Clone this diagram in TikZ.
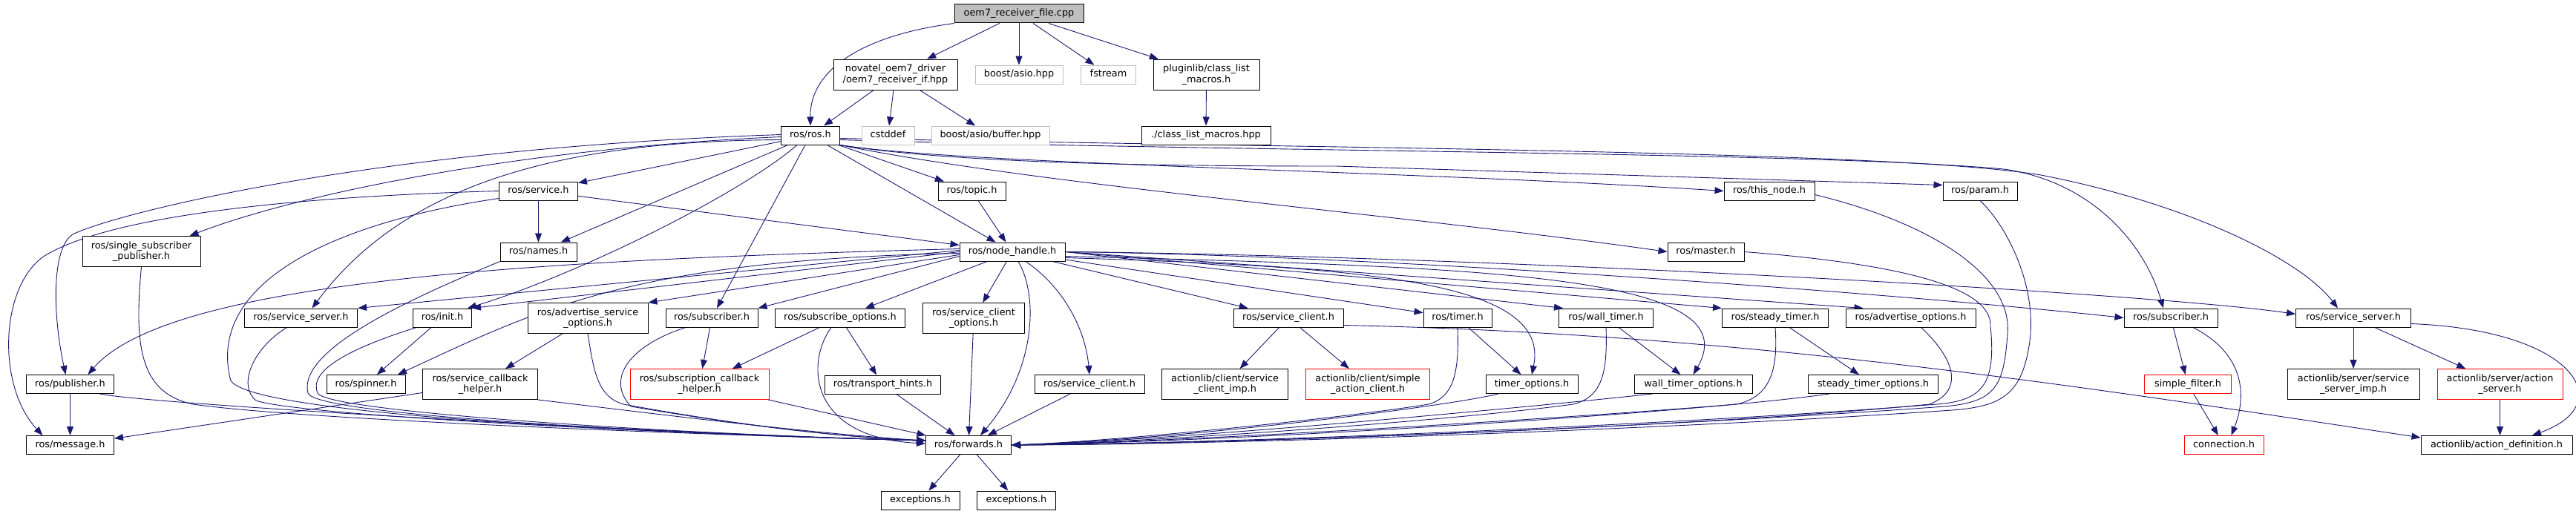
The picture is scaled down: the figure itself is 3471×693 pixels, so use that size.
\documentclass[tikz,border=0pt]{standalone}
\usepackage{fontspec}
\setmainfont{DejaVu Sans}
\usetikzlibrary{arrows.meta}
\definecolor{edgeblue}{HTML}{191970}
\definecolor{nofile}{HTML}{BFBFBF}
\definecolor{rootfill}{HTML}{BFBFBF}
\pgfdeclarelayer{edges}
\pgfsetlayers{edges,main}
\tikzset{
  base/.style={draw=black, line width=1pt, fill=white, inner xsep=3pt, inner ysep=2pt,
    font=\fontsize{12.85}{14.7}\selectfont},
  one/.style={base, minimum height=25pt, text height=9.5pt, text depth=3pt},
  two/.style={base, align=center, minimum height=41pt},
  gry/.style={draw=nofile},
  trunc/.style={draw=red},
  arr/.style={draw=edgeblue, line width=0.9pt, -{Triangle[length=12pt,width=9pt]}}
}
\begin{document}
\begin{tikzpicture}[x=1pt,y=-1pt]
\useasboundingbox (0,0) rectangle (3471,693);
% row 0
\node[one, fill=rootfill, minimum width=174pt] (root) at (1373,18.5) {oem7\_receiver\_file.cpp};
% row 1
\node[two, minimum width=167pt] (novatel) at (1206.5,100.5) {novatel\_oem7\_driver\\/oem7\_receiver\_if.hpp};
\node[one, gry, minimum width=118pt] (asio) at (1373,100.5) {boost/asio.hpp};
\node[one, gry, minimum width=74pt] (fstream) at (1493.5,100.5) {fstream};
\node[two, minimum width=143pt] (plugin) at (1625.5,100.5) {pluginlib/class\_list\\\_macros.h};
% row 2
\node[one, minimum width=79pt] (ros) at (1092,182.5) {ros/ros.h};
\node[one, gry, minimum width=71pt] (cstddef) at (1196.5,182.5) {cstddef};
\node[one, gry, minimum width=159pt] (buffer) at (1334.5,182.5) {boost/asio/buffer.hpp};
\node[one, minimum width=174pt] (clm) at (1625,182.5) {./class\_list\_macros.hpp};
% row 3
\node[one, minimum width=106pt] (service) at (725.5,257.5) {ros/service.h};
\node[one, minimum width=91pt] (topic) at (1309.5,257.5) {ros/topic.h};
\node[one, minimum width=122pt] (thisnode) at (2384,257.5) {ros/this\_node.h};
\node[one, minimum width=100pt] (param) at (2668,257.5) {ros/param.h};
% row 4
\node[two, minimum width=159pt] (ssp) at (190.5,339) {ros/single\_subscriber\\\_publisher.h};
\node[one, minimum width=103pt] (names) at (725.5,339.5) {ros/names.h};
\node[one, minimum width=142pt] (nh) at (1364,339.5) {ros/node\_handle.h};
\node[one, minimum width=103pt] (master) at (2298.5,339.5) {ros/master.h};
% row 5
\node[one, minimum width=152pt] (ssL) at (405.5,428.5) {ros/service\_server.h};
\node[one, minimum width=79pt] (init) at (596,428.5) {ros/init.h};
\node[two, minimum width=162pt] (aso) at (792,429) {ros/advertise\_service\\\_options.h};
\node[one, minimum width=124pt] (subL) at (959,428.5) {ros/subscriber.h};
\node[one, minimum width=175pt] (subopt) at (1132,428.5) {ros/subscribe\_options.h};
\node[two, minimum width=137pt] (sco) at (1312,429) {ros/service\_client\\\_options.h};
\node[one, minimum width=148pt] (scU) at (1736,428.5) {ros/service\_client.h};
\node[one, minimum width=92pt] (timer) at (1964,428.5) {ros/timer.h};
\node[one, minimum width=127pt] (wtimer) at (2164,428.5) {ros/wall\_timer.h};
\node[one, minimum width=143pt] (stimer) at (2392,428.5) {ros/steady\_timer.h};
\node[one, minimum width=175pt] (advopt) at (2574.5,428.5) {ros/advertise\_options.h};
\node[one, minimum width=126pt] (subR) at (2925,428.5) {ros/subscriber.h};
\node[one, minimum width=155pt] (ssR) at (3171,428.5) {ros/service\_server.h};
% row 6
\node[one, minimum width=118pt] (pub) at (94.5,518) {ros/publisher.h};
\node[one, minimum width=106pt] (spinner) at (493,518) {ros/spinner.h};
\node[two, minimum width=155pt] (sch) at (647,518) {ros/service\_callback\\\_helper.h};
\node[two, trunc, minimum width=187pt] (subch) at (942.5,518) {ros/subscription\_callback\\\_helper.h};
\node[one, minimum width=156pt] (th) at (1189.5,518.5) {ros/transport\_hints.h};
\node[one, minimum width=148pt] (scL) at (1468,518) {ros/service\_client.h};
\node[two, minimum width=170pt] (scimp) at (1650.6,518) {actionlib/client/service\\\_client\_imp.h};
\node[two, trunc, minimum width=167pt] (sac) at (1843,518) {actionlib/client/simple\\\_action\_client.h};
\node[one, minimum width=124pt] (topt) at (2064,518) {timer\_options.h};
\node[one, minimum width=159pt] (wtopt) at (2281.5,518) {wall\_timer\_options.h};
\node[one, minimum width=175pt] (stopt) at (2524,518) {steady\_timer\_options.h};
\node[one, trunc, minimum width=117pt] (sfilter) at (2948,518) {simple\_filter.h};
\node[two, minimum width=178pt] (ssimp) at (3171,518) {actionlib/server/service\\\_server\_imp.h};
\node[two, trunc, minimum width=169pt] (aserver) at (3368.5,518) {actionlib/server/action\\\_server.h};
% row 7
\node[one, minimum width=118pt] (msg) at (94.5,600) {ros/message.h};
\node[one, minimum width=115pt] (fwd) at (1305,600) {ros/forwards.h};
\node[one, trunc, minimum width=107pt] (conn) at (2996.5,600) {connection.h};
\node[one, minimum width=204pt] (adef) at (3364,600) {actionlib/action\_definition.h};
% row 8
\node[one, minimum width=106pt] (exc1) at (1240,674.5) {exceptions.h};
\node[one, minimum width=106pt] (exc2) at (1369.5,674.5) {exceptions.h};

\begin{pgfonlayer}{edges}
% root
\draw[arr] (root.south west) .. controls (1160,48) and (1091,95) .. (ros.north);
\draw[arr] (root) -- (novatel);
\draw[arr] (root) -- (asio);
\draw[arr] (root) -- (fstream);
\draw[arr] (root) -- (plugin);
\draw[arr] (novatel) -- (ros);
\draw[arr] (novatel) -- (cstddef);
\draw[arr] (novatel) -- (buffer);
\draw[arr] (plugin) -- (clm);
% ros/ros.h
\draw[arr] (ros) -- (service);
\draw[arr] (ros) -- (names);
\draw[arr] (ros) -- (nh);
\draw[arr] (ros) -- (topic);
\draw[arr] (ros) -- (subL);
\draw[arr] (ros.south east) .. controls (1300,222) and (1900,230) .. (thisnode.west);
\draw[arr] (ros.south east) .. controls (1300,222) and (1600,224) .. (1800,224) -- ([yshift=8pt]param.west);
\draw[arr] (ros.south east) .. controls (1400,250) and (1900,290) .. (master.west);
\draw[arr] ([yshift=-2pt]ros.west) .. controls (700,200) and (400,262) .. ([xshift=-15pt]ssp.north east);
\draw[arr] ([yshift=1pt]ros.west) .. controls (500,200) and (160,287) .. (100,315) .. controls (70,329) and (70,420) .. ([xshift=-6pt]pub.north);
\draw[arr] ([yshift=-6pt]ros.west) .. controls (740,190) and (540,255) .. ([xshift=15pt]ssL.north);
\draw[arr] ([xshift=-18pt]ros.south) .. controls (1000,260) and (780,370) .. ([xshift=34pt]init.north);
\draw[arr] ([yshift=-6pt]ros.east) .. controls (1700,205) and (2450,205) .. (2700,228) .. controls (2820,245) and (2890,330) .. ([xshift=-10pt]subR.north);
\draw[arr] ([yshift=-4pt]ros.east) .. controls (1800,200) and (2550,203) .. (2750,236) .. controls (2950,275) and (3100,350) .. ([xshift=-21pt]ssR.north);
% ros/service.h
\draw[arr] (service) -- (names);
\draw[arr] (service) -- (nh);
\draw[arr] (service.west) .. controls (400,265) and (150,290) .. (60,345) .. controls (0,385) and (-5,520) .. ([xshift=-37pt]msg.north);
\draw[arr] ([yshift=-10pt]service.west) .. controls (450,300) and (280,380) .. (310,510) .. controls (315,560) and (900,585) .. ([yshift=6pt]fwd.west);
% topic, names
\draw[arr] (topic) -- (nh);
\draw[arr] (names.south west) .. controls (560,400) and (400,470) .. (415,530) .. controls (425,560) and (900,585) .. ([yshift=6pt]fwd.west);
% node_handle
\draw[arr] ([yshift=4pt]nh.west) .. controls (750,350) and (230,375) .. ([xshift=24pt]pub.north);
\draw[arr] ([yshift=2pt]nh.west) -- (ssL.north east);
\draw[arr] (nh.west) -- (init.north east);
\draw[arr] ([yshift=-2pt]nh.west) .. controls (850,350) and (720,420) .. ([xshift=43pt]spinner.north);
\draw[arr] ([yshift=-4pt]nh.west) -- (aso.north east);
\draw[arr] ([yshift=-6pt]nh.west) -- (subL.north east);
\draw[arr] (nh) -- (subopt);
\draw[arr] (nh) -- (sco);
\draw[arr] ([xshift=8pt]nh.south) .. controls (1400,400) and (1395,500) .. ([xshift=16pt]fwd.north);
\draw[arr] ([xshift=18pt]nh.south) .. controls (1430,385) and (1462,440) .. (scL.north);
\draw[arr] (nh) -- (scU);
\draw[arr] (nh) -- (timer);
\draw[arr] (nh.east) -- ([xshift=6pt]wtimer.north west);
\draw[arr] (nh.east) -- (stimer.north west);
\draw[arr] (nh.east) -- ([xshift=24pt]advopt.north west);
\draw[arr] (nh.east) .. controls (1900,345) and (2600,400) .. (subR.west);
\draw[arr] (nh.east) .. controls (2000,345) and (2900,395) .. ([yshift=5pt]ssR.west);
\draw[arr] ([yshift=-8pt]nh.east) .. controls (1850,360) and (2090,380) .. (topt.north);
\draw[arr] ([yshift=-6pt]nh.east) .. controls (2000,360) and (2360,370) .. (wtopt.north);
% left block into forwards
\draw[arr] (ssp.south) .. controls (180,470) and (190,530) .. (260,545) .. controls (400,565) and (900,585) .. ([yshift=6pt]fwd.west);
\draw[arr] ([xshift=40pt]pub.south) .. controls (200,545) and (900,585) .. ([yshift=6pt]fwd.west);
\draw[arr] (pub) -- (msg);
\draw[arr] ([xshift=-19pt]ssL.south) .. controls (340,470) and (320,520) .. (345,540) .. controls (400,560) and (900,585) .. ([yshift=6pt]fwd.west);
\draw[arr] ([xshift=-35pt]init.south) .. controls (470,470) and (415,500) .. (428,530) .. controls (440,555) and (900,585) .. ([yshift=6pt]fwd.west);
\draw[arr] (init) -- (spinner);
\draw[arr] (aso) -- (sch);
\draw[arr] (aso.south) .. controls (800,500) and (805,535) .. (840,545) .. controls (950,565) and (1100,588) .. ([yshift=6pt]fwd.west);
\draw[arr] (sch) -- (msg);
\draw[arr] (sch.south east) .. controls (900,560) and (1100,585) .. ([yshift=6pt]fwd.west);
\draw[arr] (subL) -- (subch);
\draw[arr] ([xshift=-35pt]subL.south) .. controls (850,465) and (815,510) .. (850,548) .. controls (950,565) and (1100,588) .. ([yshift=6pt]fwd.west);
\draw[arr] (subopt) -- (subch);
\draw[arr] (subopt) -- (th);
\draw[arr] ([xshift=-12pt]subopt.south) .. controls (1085,490) and (1090,590) .. ([yshift=2pt]fwd.west);
\draw[arr] (subch) -- (fwd);
\draw[arr] (sco) -- (fwd);
\draw[arr] (th) -- (fwd);
\draw[arr] (scL) -- (fwd);
% service_client (upper)
\draw[arr] (scU) -- (scimp);
\draw[arr] (scU) -- (sac);
\draw[arr] ([yshift=3pt]scU.south east) .. controls (2350,450) and (2800,520) .. ([yshift=10pt]adef.west);
% timers into forwards
\draw[arr] (timer) -- (topt);
\draw[arr] (timer.south) .. controls (1966,500) and (1960,535) .. (1925,545) .. controls (1800,565) and (1500,595) .. (fwd.east);
\draw[arr] ([xshift=-45pt]topt.south) .. controls (1950,548) and (1600,592) .. (fwd.east);
\draw[arr] (wtimer) -- (wtopt);
\draw[arr] (wtimer.south) .. controls (2166,500) and (2160,535) .. (2120,545) .. controls (1950,568) and (1550,596) .. (fwd.east);
\draw[arr] ([xshift=-55pt]wtopt.south) .. controls (2100,545) and (1600,593) .. (fwd.east);
\draw[arr] (stimer) -- (stopt);
\draw[arr] (stimer.south) .. controls (2396,500) and (2385,535) .. (2340,545) .. controls (2100,565) and (1600,595) .. (fwd.east);
\draw[arr] ([xshift=-59pt]stopt.south) .. controls (2300,555) and (1700,594) .. (fwd.east);
\draw[arr] ([xshift=14pt]advopt.south) .. controls (2630,480) and (2650,525) .. (2600,545) .. controls (2300,575) and (1700,597) .. (fwd.east);
\draw[arr] ([yshift=-5pt]thisnode.east) .. controls (2600,300) and (2712,370) .. (2705,450) .. controls (2700,520) and (2690,542) .. (2620,548) .. controls (2300,572) and (1700,598) .. (fwd.east);
\draw[arr] (param.south) .. controls (2700,300) and (2745,380) .. (2735,460) .. controls (2725,530) and (2700,548) .. (2630,553) .. controls (2300,576) and (1700,599) .. (fwd.east);
\draw[arr] (master.east) .. controls (2550,355) and (2685,385) .. (2682,440) .. controls (2690,520) and (2670,540) .. (2610,545) .. controls (2300,570) and (1700,597) .. (fwd.east);
% right block
\draw[arr] (subR) -- (sfilter);
\draw[arr] ([xshift=30pt]subR.south) .. controls (3030,480) and (3025,540) .. ([xshift=10pt]conn.north);
\draw[arr] (sfilter) -- (conn);
\draw[arr] (ssR) -- (ssimp);
\draw[arr] (ssR) -- (aserver);
\draw[arr] ([yshift=-8pt]ssR.east) .. controls (3470,445) and (3530,545) .. ([xshift=48pt]adef.north);
\draw[arr] (aserver) -- (aserver |- adef.north);
% forwards
\draw[arr] (fwd) -- (exc1);
\draw[arr] (fwd) -- (exc2);
\end{pgfonlayer}
\end{tikzpicture}
\end{document}
